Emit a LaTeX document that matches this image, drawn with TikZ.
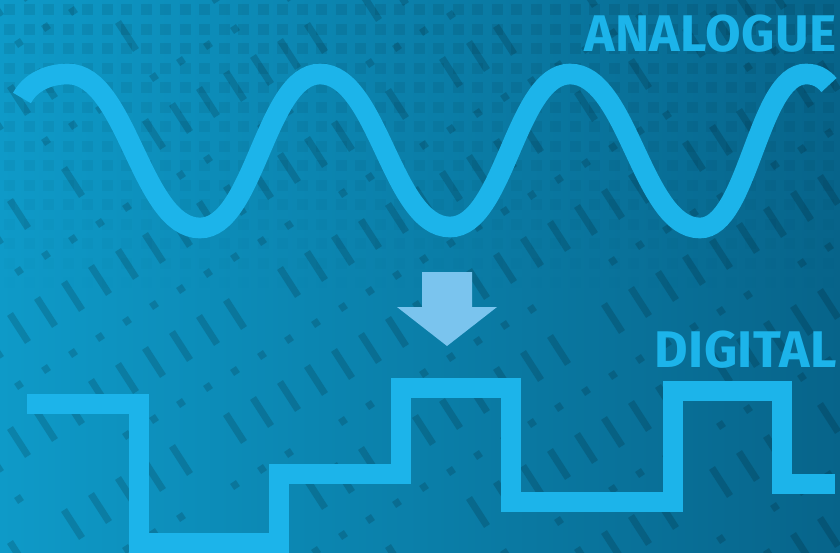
\documentclass[tikz,border=0pt]{standalone}
\usepackage{fontspec}
\setsansfont{Fira Sans}[LetterSpace=1]
\usetikzlibrary{calc}

\definecolor{wave}{RGB}{28,180,234}
\definecolor{arrowblue}{RGB}{122,196,238}
\definecolor{bgleft}{RGB}{14,154,200}
\definecolor{bgright}{RGB}{7,100,138}

\begin{document}
\begin{tikzpicture}[
    x=0.03cm, y=-0.03cm,
    signal/.style={draw=wave, line width=0.62cm, line cap=butt, line join=miter},
    heading/.style={font=\sffamily\bfseries\fontsize{44}{44}\selectfont, text=wave, inner sep=0pt, anchor=base east},
    rain/.style={draw=black, opacity=0.15, line width=0.21cm, line cap=butt}
]
    % Background
    \useasboundingbox (0,0) rectangle (840,552);
    \clip (0,0) rectangle (840,552);
    \shade[left color=bgleft, right color=bgright] (0,0) rectangle (840,552);

    % Grid in the upper part
    \foreach \gx in {0,...,43} {
        \foreach \gy in {0,...,14} {
            \pgfmathsetmacro{\op}{0.08*(1-\gy/15)}
            \fill[black, opacity=\op] (4+19.5*\gx, 4+19.5*\gy) rectangle ++(11,11);
        }
    }

    % Rain marks
    \pgfmathsetseed{7}
    \foreach \i in {-2,...,32} {
        \foreach \j in {-1,...,20} {
            \pgfmathsetmacro{\mx}{19+27*\i}
            \pgfmathsetmacro{\my}{-71-16*\i+57*\j}
            \pgfmathsetmacro{\keep}{rnd}
            \ifdim\keep pt>0.15pt
                \ifodd\j
                    \draw[rain] (\mx-9,\my-14) -- (\mx+9,\my+14);
                \else
                    \draw[rain] (\mx-2,\my-3) -- (\mx+2,\my+3);
                \fi
            \fi
        }
    }

    % Analogue signal
    \draw[signal] (22,98) .. controls (30,83) and (47,74) .. (68,74)
        .. controls (127,74) and (141,228) .. (200,228)
        .. controls (254,228) and (266,74) .. (320,74)
        .. controls (378,74) and (392,227) .. (450,227)
        .. controls (504,227) and (516,74) .. (570,74)
        .. controls (628,74) and (642,228) .. (700,228)
        .. controls (748,228) and (758,74) .. (806,74)
        .. controls (816,74) and (823,78) .. (829,85);

    % Arrow
    \fill[arrowblue] (422,272) -- (472,272) -- (472,307) -- (497,307) -- (447,346)
        -- (397,307) -- (422,307) -- cycle;

    % Digital signal
    \draw[signal] (27,404) -- (139,404) -- (139,543) -- (279,543) -- (279,474)
        -- (401,474) -- (401,388) -- (511,388) -- (511,502) -- (673,502)
        -- (673,391) -- (782,391) -- (782,484) -- (835,484);

    % Labels
    \node[heading] (analogue) at (837,51) {ANALOGUE};
    \node[heading] (digital) at (837,367) {DIGITAL};
\end{tikzpicture}
\end{document}
